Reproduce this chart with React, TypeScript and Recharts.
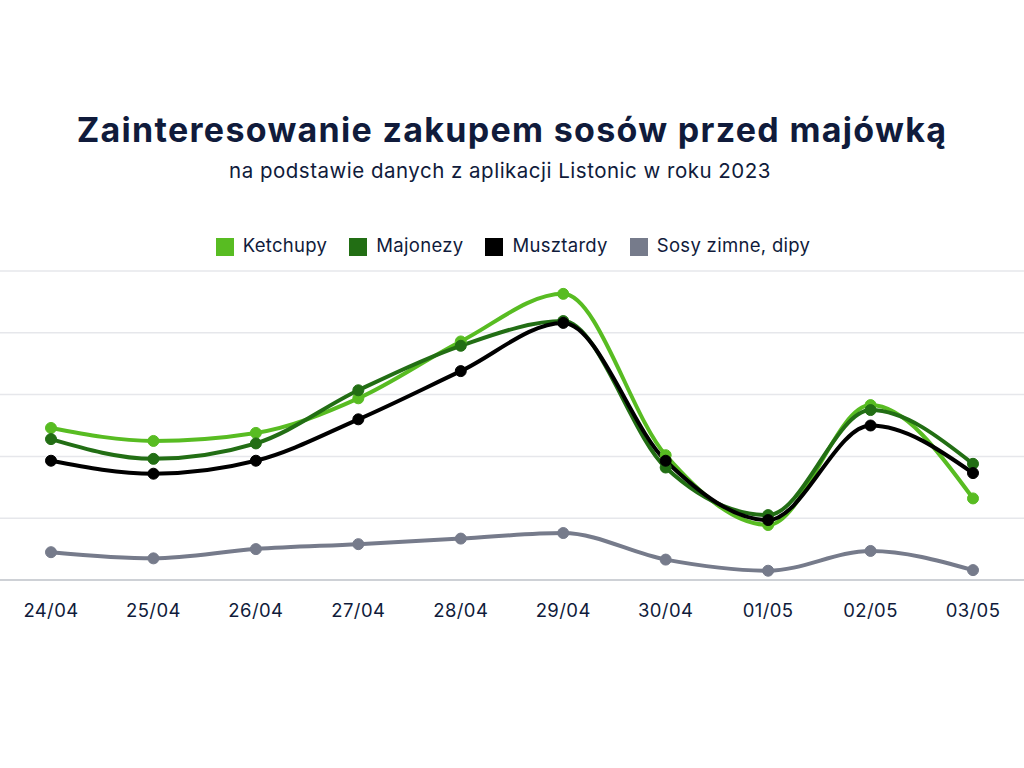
import React from 'react';
import { LineChart, Line, XAxis, YAxis, CartesianGrid, Legend } from 'recharts';

const days = ['24/04', '25/04', '26/04', '27/04', '28/04', '29/04', '30/04', '01/05', '02/05', '03/05'];
const ketchupy = [2.46, 2.25, 2.38, 2.94, 3.86, 4.63, 2.02, 0.89, 2.83, 1.32];
const majonezy = [2.28, 1.96, 2.21, 3.07, 3.79, 4.19, 1.82, 1.05, 2.75, 1.88];
const musztardy = [1.93, 1.72, 1.93, 2.6, 3.38, 4.16, 1.93, 0.97, 2.5, 1.73];
const sosy = [0.45, 0.35, 0.5, 0.58, 0.67, 0.76, 0.33, 0.15, 0.47, 0.16];
const yTicks = [0, 1, 2, 3, 4, 5];

const series = [
  { key: 'ketchupy', name: 'Ketchupy', color: '#58BC22' },
  { key: 'majonezy', name: 'Majonezy', color: '#226E14' },
  { key: 'musztardy', name: 'Musztardy', color: '#000000' },
  { key: 'sosy', name: 'Sosy zimne, dipy', color: '#767B8B' },
];

const data = days.map((day, i) => ({
  day,
  ketchupy: ketchupy[i],
  majonezy: majonezy[i],
  musztardy: musztardy[i],
  sosy: sosy[i],
}));

const FONT = 'Inter, "Noto Sans", sans-serif';
const NAVY = '#101B3B';

const App: React.FC = () => {
  return (
    <div
      style={{
        position: 'absolute',
        left: 0,
        top: 0,
        width: 1024,
        height: 768,
        background: '#ffffff',
        fontFamily: FONT,
      }}
    >
      <div
        style={{
          position: 'absolute',
          top: 109,
          width: 1024,
          textAlign: 'center',
          fontSize: 34,
          fontWeight: 700,
          letterSpacing: 1.3,
          color: NAVY,
          lineHeight: '42px',
        }}
      >
        Zainteresowanie zakupem sosów przed majówką
      </div>
      <div
        style={{
          position: 'absolute',
          top: 158,
          left: 0,
          width: 1000,
          textAlign: 'center',
          fontSize: 20.5,
          letterSpacing: 0.5,
          color: NAVY,
          lineHeight: '26px',
        }}
      >
        na podstawie danych z aplikacji Listonic w roku 2023
      </div>

      <LineChart
        width={1024}
        height={768}
        data={data}
        margin={{ top: 271, right: 0, left: 0, bottom: 128 }}
      >
        <CartesianGrid vertical={false} stroke="#E6E7EB" strokeWidth={1.5} />
        <XAxis
          dataKey="day"
          height={60}
          padding={{ left: 51, right: 51 }}
          axisLine={{ stroke: '#C4C7CE', strokeWidth: 1.5 }}
          tickLine={false}
          tickMargin={18}
          tick={{ fill: NAVY, fontSize: 18.5, fontFamily: FONT, letterSpacing: 0.4 }}
          interval={0}
        />
        <YAxis hide domain={[0, 5]} ticks={yTicks} />
        <Legend
          layout="horizontal"
          verticalAlign="middle"
          align="center"
          iconType="square"
          iconSize={18}
          wrapperStyle={{ top: 234, left: 12, width: 1024, fontFamily: FONT, fontSize: 18.5 }}
          formatter={(value: string) => (
            <span style={{ color: NAVY, marginLeft: 5, marginRight: 12, letterSpacing: 0.3 }}>{value}</span>
          )}
        />
        {series.map((s) => (
          <Line
            key={s.key}
            type="monotone"
            dataKey={s.key}
            name={s.name}
            stroke={s.color}
            strokeWidth={4}
            dot={{ r: 5.5, fill: s.color, stroke: s.color, strokeWidth: 1 }}
            activeDot={false}
            isAnimationActive={false}
          />
        ))}
      </LineChart>
    </div>
  );
};

export default App;
